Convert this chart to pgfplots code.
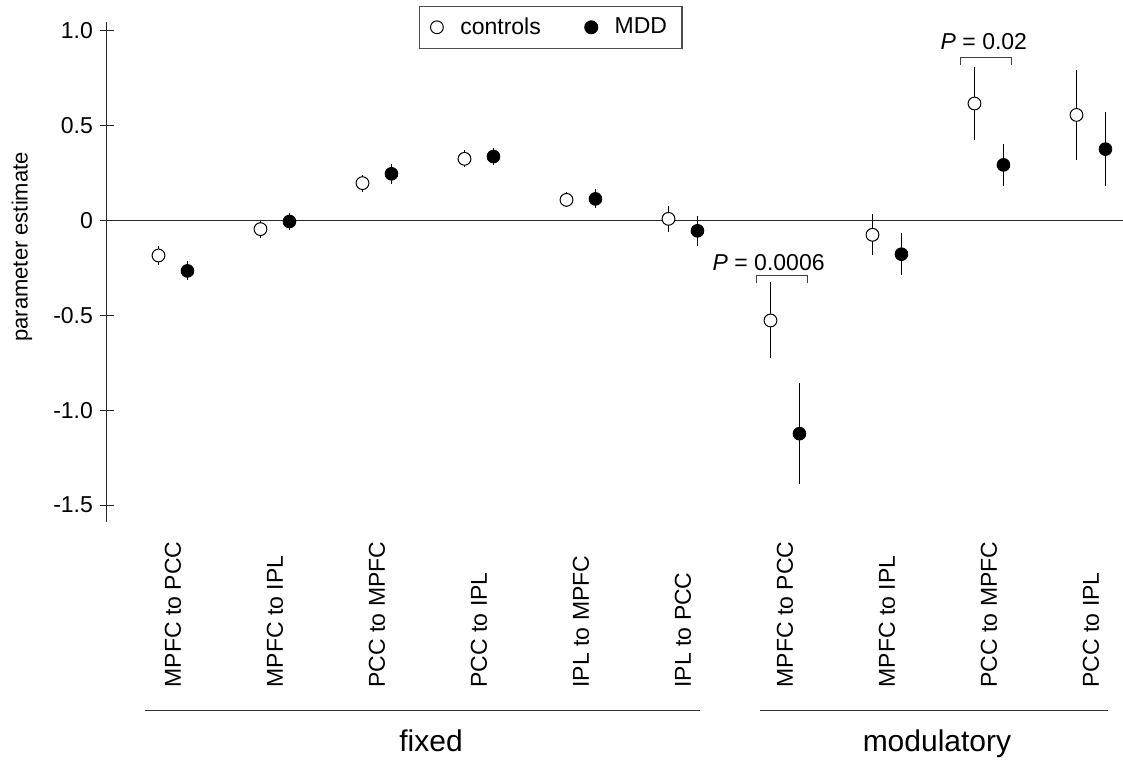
\documentclass[border=0pt]{standalone}
\usepackage{fontspec}
\setmainfont{Liberation Sans}
\usepackage{pgfplots}
\pgfplotsset{compat=1.18}
\usepackage{pgfplotstable}

% parameter estimates, pos = connection index, err = half length of bar
\pgfplotstableread{
pos y err
0 -0.186 0.050
1 -0.047 0.045
2 0.195 0.045
3 0.323 0.045
4 0.107 0.040
5 0.007 0.070
6 -0.528 0.200
7 -0.077 0.108
8 0.614 0.193
9 0.554 0.235
}\ctrltab

\pgfplotstableread{
pos y err
0 -0.267 0.050
1 -0.007 0.045
2 0.244 0.053
3 0.335 0.045
4 0.112 0.050
5 -0.056 0.080
6 -1.124 0.265
7 -0.179 0.112
8 0.291 0.112
9 0.374 0.196
}\mddtab

\begin{document}
\begin{tikzpicture}
\begin{axis}[
    scale only axis,
    width=508pt, height=250pt,
    xmin=-0.647, xmax=9.314,
    ymin=-1.588, ymax=1.044,
    axis lines*=left,
    x axis line style={draw=none},
    axis line style={line width=0.5pt, black!85},
    clip=false,
    xtick={0,...,9},
    xticklabels={MPFC to PCC, MPFC to IPL, PCC to MPFC, PCC to IPL, IPL to MPFC, IPL to PCC,
                 MPFC to PCC, MPFC to IPL, PCC to MPFC, PCC to IPL},
    xtick style={draw=none},
    xticklabel style={rotate=90, anchor=west, inner sep=0pt, font=\fontsize{11.5}{13}\selectfont},
    xticklabel shift=83pt,
    ytick={-1.5,-1,-0.5,0,0.5,1},
    yticklabels={-1.5,-1.0,-0.5,0,0.5,1.0},
    ytick align=center,
    major tick length=7pt,
    ytick style={line width=0.5pt, black!85},
    yticklabel style={font=\fontsize{11.5}{13}\selectfont},
    ylabel={parameter estimate},
    ylabel style={at={(rel axis cs:-0.0837,0.55)}, anchor=center, font=\fontsize{11}{13}\selectfont},
    legend columns=2,
    legend style={at={(0.307,1.032)}, anchor=north west, draw=black!70, line width=0.6pt,
        inner xsep=5.5pt, inner ysep=3.5pt,
        font=\fontsize{11.5}{13}\selectfont,
        /tikz/every odd column/.append style={column sep=6.5pt},
        /tikz/every even column/.append style={column sep=20pt}},
    error bars/error bar style={line width=0.5pt, black},
]
% zero line
\addplot[black!85, line width=0.5pt, forget plot] coordinates {(-0.647,0) (9.314,0)};

\addplot[only marks, mark=*, mark size=3.2pt, mark options={fill=white, draw=black, line width=0.5pt},
    error bars/.cd, y dir=both, y explicit, error mark=none]
    table[x expr=\thisrow{pos}-0.142, y=y, y error=err] {\ctrltab};
\addlegendentry{controls}

\addplot[only marks, mark=*, mark size=3.2pt, mark options={fill=black, draw=black},
    error bars/.cd, y dir=both, y explicit, error mark=none]
    table[x expr=\thisrow{pos}+0.142, y=y, y error=err] {\mddtab};
\addlegendentry{MDD}

% significance brackets
\draw[line width=0.5pt, black!75] (axis cs:5.716,-0.330) |- (axis cs:6.216,-0.293) -- (axis cs:6.216,-0.330);
\node[font=\fontsize{11.5}{13}\selectfont] at (axis cs:5.84,-0.225) {\textit{P} = 0.0006};
\draw[line width=0.5pt, black!75] (axis cs:7.725,0.817) |- (axis cs:8.225,0.854) -- (axis cs:8.225,0.817);
\node[font=\fontsize{11.5}{13}\selectfont] at (axis cs:7.95,0.94) {\textit{P} = 0.02};

% group brackets below labels
\draw[line width=0.5pt, black!80] (axis cs:-0.275,-2.583) -- (axis cs:5.167,-2.583);
\draw[line width=0.5pt, black!80] (axis cs:5.755,-2.583) -- (axis cs:9.167,-2.583);
\node[font=\fontsize{15}{17}\selectfont, anchor=base] at (axis cs:2.53,-2.798) {fixed};
\node[font=\fontsize{15}{17}\selectfont, anchor=base] at (axis cs:7.49,-2.798) {modulatory};

\coordinate (bbBL) at (axis cs:-1.696,-2.852);
\coordinate (bbTR) at (axis cs:9.314,1.159);
\end{axis}
\pgfresetboundingbox
\useasboundingbox (bbBL) rectangle (bbTR);
\end{tikzpicture}
\end{document}
